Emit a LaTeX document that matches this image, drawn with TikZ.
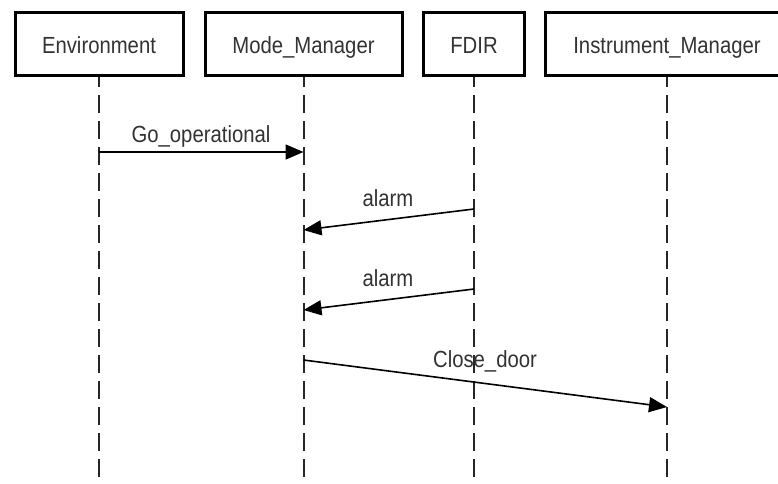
\documentclass[tikz,border=0pt]{standalone}
\usepackage{fontspec}
\setmainfont{Liberation Sans}
\usetikzlibrary{arrows.meta}
\newcommand{\lbl}[1]{\scalebox{1}[1.15]{#1}}
\begin{document}
\begin{tikzpicture}[x=1pt,y=-1pt,
  actor/.style={draw=black,line width=3pt,minimum height=63pt,inner sep=0pt,
    text height=19.6pt,text depth=0pt,
    font=\fontsize{20.3}{24}\selectfont,text=black!80},
  lifeline/.style={draw=black!85,line width=2pt,dash pattern=on 18pt off 8pt},
  msg/.style={draw=black,line width=1.6pt,-{Triangle[length=18pt,width=15pt]}},
  msglabel/.style={font=\fontsize{20.3}{24}\selectfont,text=black!80,inner sep=0pt,anchor=base}]
\useasboundingbox (0,0) rectangle (778,483);
\clip (0,0) rectangle (778,483);
\fill[white] (0,0) rectangle (778,483);

% participants
\node[actor,minimum width=168pt] (env) at (99,43.5) {\lbl{Environment}};
\node[actor,minimum width=197pt] (mm) at (303.5,43.5) {\lbl{Mode\_Manager}};
\node[actor,minimum width=101pt] (fdir) at (474,43.5) {\lbl{FDIR}};
\node[actor,minimum width=244pt] (im) at (667,43.5) {\lbl{Instrument\_Manager}};

% lifeline ends
\coordinate (envE) at (99,477);
\coordinate (mmE) at (303.5,477);
\coordinate (fdirE) at (474,477);
\coordinate (imE) at (667,477);
\draw[lifeline] (envE) -- (env.south);
\draw[lifeline] (mmE) -- (mm.south);
\draw[lifeline] (fdirE) -- (fdir.south);
\draw[lifeline] (imE) -- (im.south);

% message anchors on lifelines
\coordinate (m1a) at (99,152);
\coordinate (m1b) at (303.5,152);
\coordinate (m2a) at (474,209);
\coordinate (m2b) at (303.5,230);
\coordinate (m3a) at (474,289);
\coordinate (m3b) at (303.5,310);
\coordinate (m4a) at (303.5,360);
\coordinate (m4b) at (667,407);

\draw[msg] (m1a) -- (m1b);
\draw[msg] (m2a) -- (m2b);
\draw[msg] (m3a) -- (m3b);
\draw[msg] (m4a) -- (m4b);

% message labels, placed by baseline
\node[msglabel] (l1) at (201,142.7) {\lbl{Go\_operational}};
\node[msglabel] (l2) at (388,206) {\lbl{alarm}};
\node[msglabel] (l3) at (388,286.7) {\lbl{alarm}};
\node[msglabel] (l4) at (485,367.7) {\lbl{Close\_door}};
\end{tikzpicture}
\end{document}
